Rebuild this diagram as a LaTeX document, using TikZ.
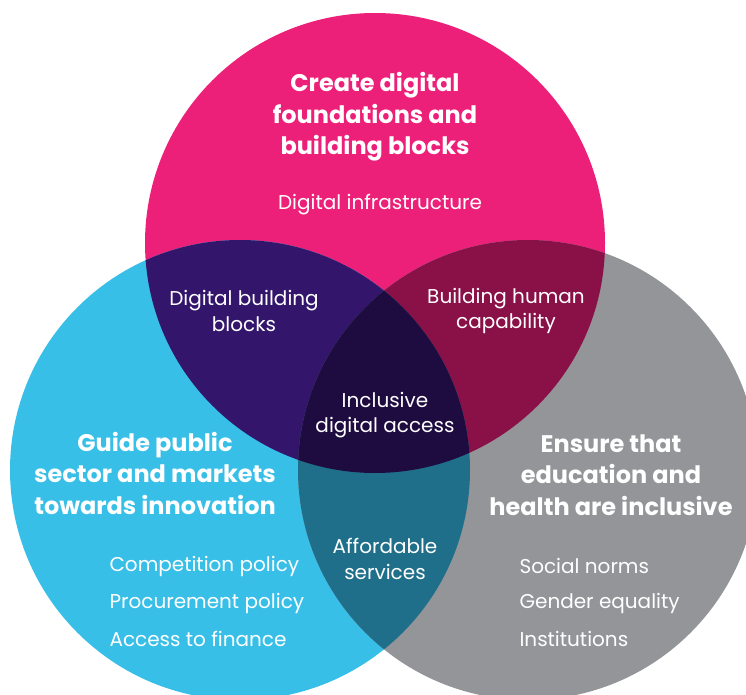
\documentclass[tikz,border=0pt]{standalone}
\usepackage{fontspec}
\setmainfont{Poppins}
\definecolor{pinkc}{HTML}{ED2079}
\definecolor{bluec}{HTML}{38BFE8}
\definecolor{grayc}{HTML}{939598}
\definecolor{purplec}{HTML}{33166B}
\definecolor{maroonc}{HTML}{8A1048}
\definecolor{tealc}{HTML}{1F6F8A}
\definecolor{darkc}{HTML}{1E0C40}

\begin{document}
\begin{tikzpicture}[x=1pt,y=-1pt,
  title/.style={text=white,align=center,font=\fontsize{24}{31.5}\selectfont\bfseries},
  label/.style={text=white,align=center,font=\fontsize{20}{25.5}\selectfont},
  item/.style={text=white,anchor=west,font=\fontsize{20}{25}\selectfont}]
\useasboundingbox (0,0) rectangle (746,695);
\clip (0,0) rectangle (746,695);
% circles
\coordinate (ctop) at (375,243);
\coordinate (cleft) at (240,470);
\coordinate (cright) at (528,470);
\fill[pinkc] (ctop) circle[radius=230pt];
\fill[bluec] (cleft) circle[radius=230pt];
\fill[grayc] (cright) circle[radius=230pt];
% overlaps
\begin{scope}
  \clip (ctop) circle[radius=230pt];
  \fill[purplec] (cleft) circle[radius=230pt];
  \fill[maroonc] (cright) circle[radius=230pt];
\end{scope}
\begin{scope}
  \clip (cleft) circle[radius=230pt];
  \fill[tealc] (cright) circle[radius=230pt];
  \clip (cright) circle[radius=230pt];
  \fill[darkc] (ctop) circle[radius=230pt];
\end{scope}
% texts
\node[title] (create) at (375,117) {Create digital\\foundations and\\building blocks};
\node[label] (infra) at (380,205) {Digital infrastructure};
\node[label] (blocks) at (244,311) {Digital building\\blocks};
\node[label] (human) at (506,311) {Building human\\capability};
\node[label] (access) at (385,415) {Inclusive\\digital access};
\node[title] (guide) at (155,473) {Guide public\\sector and markets\\towards innovation};
\node[title] (ensure) at (611,475) {Ensure that\\education and\\health are inclusive};
\node[label] (afford) at (385,559) {Affordable\\services};
\node[item] (comp) at (106,566) {Competition policy};
\node[item] (proc) at (106,603) {Procurement policy};
\node[item] (fin) at (106,639) {Access to finance};
\node[item] (norms) at (516,566) {Social norms};
\node[item] (gender) at (516,603) {Gender equality};
\node[item] (inst) at (516,639) {Institutions};
\end{tikzpicture}
\end{document}
